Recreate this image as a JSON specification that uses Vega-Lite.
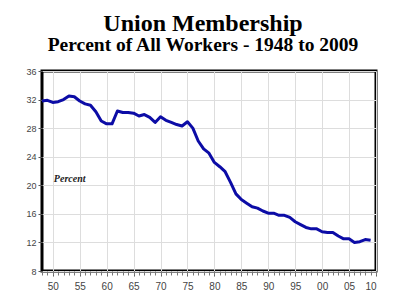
{
  "$schema": "https://vega.github.io/schema/vega-lite/v6.json",
  "width": 334,
  "height": 200,
  "autosize": "none",
  "padding": {"left": 42, "top": 71, "right": 28, "bottom": 35},
  "background": "white",
  "title": {
    "text": "Union Membership",
    "subtitle": "Percent of All Workers - 1948 to 2009",
    "font": "Liberation Serif",
    "fontSize": 24,
    "fontWeight": "bold",
    "color": "black",
    "subtitleFont": "Liberation Serif",
    "subtitleFontSize": 19.5,
    "subtitleFontWeight": "bold",
    "subtitleColor": "black",
    "subtitleLineHeight": 19,
    "lineHeight": 22,
    "anchor": "middle",
    "frame": "group",
    "dx": -6,
    "offset": 13,
    "subtitlePadding": 0
  },
  "data": {
    "values": [
      {"year": 1948, "pct": 31.8}, {"year": 1949, "pct": 31.9}, {"year": 1950, "pct": 31.6},
      {"year": 1951, "pct": 31.7}, {"year": 1952, "pct": 32.0}, {"year": 1953, "pct": 32.5},
      {"year": 1954, "pct": 32.4}, {"year": 1955, "pct": 31.8}, {"year": 1956, "pct": 31.4},
      {"year": 1957, "pct": 31.2}, {"year": 1958, "pct": 30.3}, {"year": 1959, "pct": 29.0},
      {"year": 1960, "pct": 28.6}, {"year": 1961, "pct": 28.6}, {"year": 1962, "pct": 30.4},
      {"year": 1963, "pct": 30.2}, {"year": 1964, "pct": 30.2}, {"year": 1965, "pct": 30.1},
      {"year": 1966, "pct": 29.7}, {"year": 1967, "pct": 29.9}, {"year": 1968, "pct": 29.5},
      {"year": 1969, "pct": 28.8}, {"year": 1970, "pct": 29.6}, {"year": 1971, "pct": 29.1},
      {"year": 1972, "pct": 28.8}, {"year": 1973, "pct": 28.5}, {"year": 1974, "pct": 28.3},
      {"year": 1975, "pct": 28.9}, {"year": 1976, "pct": 28.0}, {"year": 1977, "pct": 26.2},
      {"year": 1978, "pct": 25.1}, {"year": 1979, "pct": 24.5}, {"year": 1980, "pct": 23.2},
      {"year": 1981, "pct": 22.6}, {"year": 1982, "pct": 21.9}, {"year": 1983, "pct": 20.4},
      {"year": 1984, "pct": 18.8}, {"year": 1985, "pct": 18.0}, {"year": 1986, "pct": 17.5},
      {"year": 1987, "pct": 17.0}, {"year": 1988, "pct": 16.8}, {"year": 1989, "pct": 16.4},
      {"year": 1990, "pct": 16.1}, {"year": 1991, "pct": 16.1}, {"year": 1992, "pct": 15.8},
      {"year": 1993, "pct": 15.8}, {"year": 1994, "pct": 15.5}, {"year": 1995, "pct": 14.9},
      {"year": 1996, "pct": 14.5}, {"year": 1997, "pct": 14.1}, {"year": 1998, "pct": 13.9},
      {"year": 1999, "pct": 13.9}, {"year": 2000, "pct": 13.5}, {"year": 2001, "pct": 13.4},
      {"year": 2002, "pct": 13.4}, {"year": 2003, "pct": 12.9}, {"year": 2004, "pct": 12.5},
      {"year": 2005, "pct": 12.5}, {"year": 2006, "pct": 12.0}, {"year": 2007, "pct": 12.1},
      {"year": 2008, "pct": 12.4}, {"year": 2009, "pct": 12.3}
    ]
  },
  "encoding": {
    "y": {
      "field": "pct",
      "type": "quantitative",
      "scale": {"domain": [8, 36], "nice": false, "zero": false},
      "axis": {
        "title": null,
        "values": [8, 12, 16, 20, 24, 28, 32, 36],
        "grid": true,
        "gridColor": "#dddddd",
        "domain": false,
        "tickSize": 4,
        "tickColor": "#555555",
        "labelFont": "Liberation Sans",
        "labelFontSize": 9,
        "labelColor": "#444444",
        "labelPadding": 2
      }
    }
  },
  "layer": [
    {
      "mark": {"type": "line", "color": "#0c0ca6", "strokeWidth": 3, "strokeJoin": "round"},
      "encoding": {
        "x": {
          "field": "year",
          "type": "quantitative",
          "scale": {"domain": [1948, 2010], "nice": false, "zero": false},
          "axis": {
            "title": null,
            "orient": "bottom",
            "values": [1950, 1955, 1960, 1965, 1970, 1975, 1980, 1985, 1990, 1995, 2000, 2005, 2010],
            "labelExpr": "(datum.value % 100) < 10 ? '0' + (datum.value % 100) : '' + (datum.value % 100)",
            "grid": true,
            "gridColor": "#dddddd",
            "domain": false,
            "tickSize": 5,
            "tickColor": "#555555",
            "labelFont": "Liberation Sans",
            "labelFontSize": 10,
            "labelColor": "#444444",
            "labelPadding": 5
          }
        }
      }
    },
    {
      "data": {"values": [{"year": 1950.2, "pct": 20.9, "label": "Percent"}]},
      "mark": {"type": "text", "align": "left", "baseline": "middle", "font": "Liberation Serif", "fontSize": 10, "fontWeight": "bold", "fontStyle": "italic", "color": "#222222"},
      "encoding": {
        "x": {
          "field": "year",
          "type": "quantitative",
          "scale": {"domain": [1948, 2010], "nice": false, "zero": false},
          "axis": {
            "title": null,
            "orient": "bottom",
            "values": [1948, 1949, 1950, 1951, 1952, 1953, 1954, 1955, 1956, 1957, 1958, 1959, 1960, 1961, 1962, 1963, 1964, 1965, 1966, 1967, 1968, 1969, 1970, 1971, 1972, 1973, 1974, 1975, 1976, 1977, 1978, 1979, 1980, 1981, 1982, 1983, 1984, 1985, 1986, 1987, 1988, 1989, 1990, 1991, 1992, 1993, 1994, 1995, 1996, 1997, 1998, 1999, 2000, 2001, 2002, 2003, 2004, 2005, 2006, 2007, 2008, 2009, 2010],
            "labels": false,
            "grid": false,
            "domain": false,
            "tickSize": 4,
            "tickColor": "#777777"
          }
        },
        "text": {"field": "label"}
      }
    }
  ],
  "resolve": {"axis": {"x": "independent"}},
  "config": {
    "view": {"stroke": "black", "strokeWidth": 3}
  }
}
